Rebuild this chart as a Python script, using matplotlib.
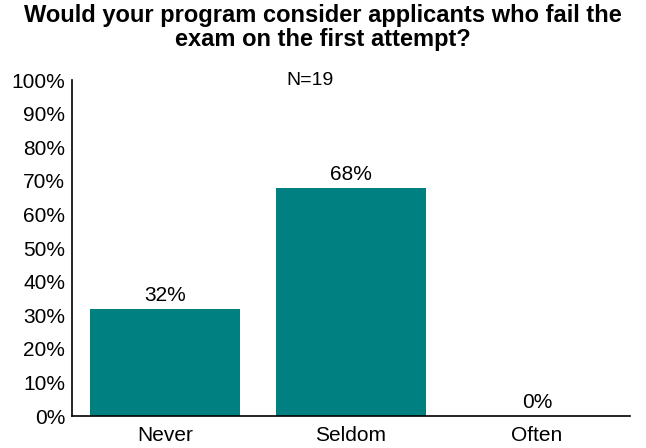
import numpy as np
import matplotlib
matplotlib.use("Agg")
import matplotlib.pyplot as plt

plt.rcParams['font.family'] = ['Liberation Sans', 'DejaVu Sans']

categories = ['Never', 'Seldom', 'Often']
values = [32, 68, 0]
value_labels = ['32%', '68%', '0%']
title = 'Would your program consider applicants who fail the\nexam on the first attempt?'
note = 'N=19'

fig = plt.figure(figsize=(6.46, 4.48), dpi=100)
ax = fig.add_axes([0.1115, 0.0714, 0.8635, 0.7496])

x = np.arange(len(categories))
bars = ax.bar(x, values, width=0.81, color='#008080')

for xi, v, lab in zip(x, values, value_labels):
    ax.text(xi, v + 1.2, lab, ha='center', va='bottom', fontsize=15)

ax.set_xlim(-0.5, 2.5)
ax.set_ylim(0, 100)
ax.set_yticks(np.arange(0, 101, 10))
ax.set_yticklabels([f'{t}%' for t in range(0, 101, 10)])
ax.set_xticks(x)
ax.set_xticklabels(categories)
ax.tick_params(axis='both', length=0, labelsize=15)
ax.tick_params(axis='x', pad=7.5)
ax.tick_params(axis='y', pad=5)

for s in ['top', 'right']:
    ax.spines[s].set_visible(False)
for s in ['left', 'bottom']:
    ax.spines[s].set_linewidth(1.2)

ax.text(0.78, 100, note, ha='center', va='center', fontsize=14)

fig.suptitle(title, fontsize=17, fontweight='bold', y=0.99, linespacing=1.05)

fig.savefig('out.png', dpi=100)
